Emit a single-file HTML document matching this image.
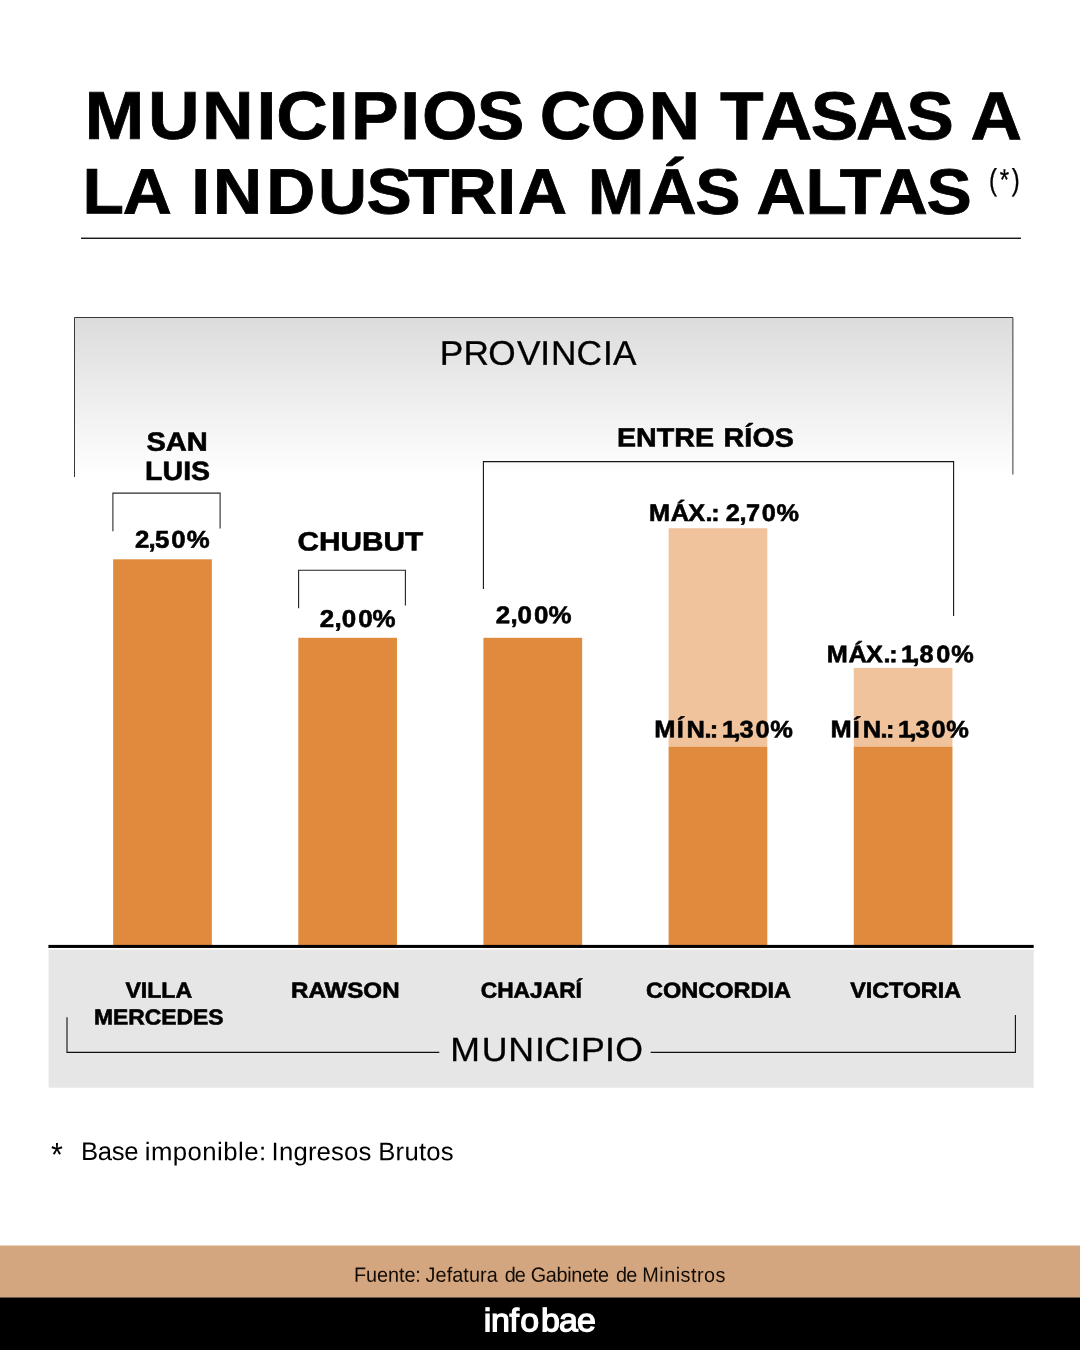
<!DOCTYPE html>
<html lang="es">
<head>
<meta charset="utf-8">
<title>Municipios con tasas a la industria más altas</title>
<style>
html,body{margin:0;padding:0;background:#fff;}
body{width:1080px;height:1350px;overflow:hidden;font-family:"Liberation Sans",sans-serif;}
svg{display:block;}
text{white-space:pre;}
</style>
</head>
<body>
<svg width="1080" height="1350" viewBox="0 0 1080 1350" text-rendering="geometricPrecision" role="img" aria-label="Municipios con tasas a la industria más altas">
<defs><linearGradient id="g" x1="0" y1="0" x2="0" y2="1"><stop offset="0" stop-color="#dcdcdc"/><stop offset="1" stop-color="#ffffff"/></linearGradient></defs>
<!-- Province header box (grey gradient, open at the bottom) -->
<g id="province-box">
  <rect x="74.50" y="317.50" width="938.40" height="158.50" fill="url(#g)"/>
  <polyline points="74.50,477.00 74.50,317.50 1012.90,317.50 1012.90,474.50" fill="none" stroke="#383838" stroke-width="1"/>
</g>
<!-- Headline -->
<g id="title">
  <text transform="translate(555.20 139.05) rotate(0.03) translate(-555.20 0) scale(1.0538 1)" x="80.46 140.42 191.79 243.46 262.18 311.88 333.04 379.78 400.37 452.35 494.83 512.19 560.39 615.34 659.69 683.30 721.87 769.42 812.38 859.98 902.46 921.04" font-family='"Liberation Sans", sans-serif' font-weight="bold" font-size="67.71" fill="#000" stroke="#000" stroke-width="0.80" stroke-linejoin="miter" stroke-miterlimit="2.5">MUNICIPIOS CON TASAS A</text>
  <text transform="translate(527.70 213.60) rotate(0.03) translate(-527.70 0) scale(1.0556 1)" x="78.25 116.18 160.86 181.09 201.86 252.35 301.23 347.13 386.55 424.16 470.96 490.61 535.29 556.75 613.35 658.56 698.90 716.66 763.20 795.55 832.37 877.63" font-family='"Liberation Sans", sans-serif' font-weight="bold" font-size="64.29" fill="#000" stroke="#000" stroke-width="0.80" stroke-linejoin="miter" stroke-miterlimit="2.5">LA INDUSTRIA MÁS ALTAS</text>
  <text transform="translate(1004.45 189.67) rotate(0.03) translate(-1004.45 0) scale(0.7917 1)" x="1249.26 1262.71 1278.02" font-family='"Liberation Sans", sans-serif' font-weight="normal" font-size="30.24" fill="#000" stroke="#000" stroke-width="0.30" stroke-linejoin="miter" stroke-miterlimit="2.5">(*)</text>
  <rect x="81.00" y="237.60" width="940.00" height="1.30" fill="#000"/>
</g>
<!-- Brackets tying bars to their province -->
<g id="province-brackets">
  <polyline points="112.90,531.20 112.90,493.10 220.10,493.10 220.10,528.40" fill="none" stroke="#2a2a2a" stroke-width="1.1"/>
  <polyline points="298.60,608.20 298.60,570.30 405.40,570.30 405.40,605.60" fill="none" stroke="#222" stroke-width="1.1"/>
  <polyline points="483.40,589.00 483.40,461.60 953.60,461.60 953.60,616.00" fill="none" stroke="#151515" stroke-width="1.1"/>
</g>
<!-- Bars: Villa Mercedes, Rawson, Chajari, Concordia (min/max), Victoria (min/max) -->
<g id="bars">
  <rect x="113.15" y="559.30" width="98.70" height="385.70" fill="#df8a3c"/>
  <rect x="298.30" y="637.80" width="98.70" height="307.20" fill="#df8a3c"/>
  <rect x="483.45" y="637.80" width="98.70" height="307.20" fill="#df8a3c"/>
  <rect x="668.60" y="528.20" width="98.70" height="218.40" fill="#f0c39d"/>
  <rect x="668.60" y="746.60" width="98.70" height="198.40" fill="#df8a3c"/>
  <rect x="853.75" y="667.90" width="98.70" height="78.70" fill="#f0c39d"/>
  <rect x="853.75" y="746.60" width="98.70" height="198.40" fill="#df8a3c"/>
</g>
<!-- Baseline and municipality panel -->
<g id="axis">
  <rect x="48.60" y="949.60" width="985.10" height="138.10" fill="#e6e6e6"/>
  <rect x="48.40" y="944.90" width="985.30" height="3.05" fill="#000"/>
</g>
<!-- Province labels -->
<g id="province-labels">
  <text transform="translate(539.95 364.75) rotate(0.03) translate(-539.95 0) scale(1.0350 1)" x="424.88 447.72 471.85 499.54 521.93 532.47 556.92 582.70 592.20" font-family='"Liberation Sans", sans-serif' font-weight="normal" font-size="34.04" fill="#000" stroke="#000" stroke-width="0.30" stroke-linejoin="miter" stroke-miterlimit="2.5">PROVINCIA</text>
  <text transform="translate(176.60 450.70) rotate(0.03) translate(-30.14 0) scale(1.0975 1)" font-family='"Liberation Sans", sans-serif' font-weight="bold" font-size="26.47" fill="#000" stroke="#000" stroke-width="0.60" stroke-linejoin="miter" stroke-miterlimit="2.5">SAN</text>
  <text transform="translate(178.00 479.90) rotate(0.03) translate(-32.91 0) scale(1.0726 1)" font-family='"Liberation Sans", sans-serif' font-weight="bold" font-size="26.62" fill="#000" stroke="#000" stroke-width="0.60" stroke-linejoin="miter" stroke-miterlimit="2.5">LUIS</text>
  <text transform="translate(360.75 550.60) rotate(0.03) translate(-63.20 0) scale(1.1174 1)" font-family='"Liberation Sans", sans-serif' font-weight="bold" font-size="26.62" fill="#000" stroke="#000" stroke-width="0.60" stroke-linejoin="miter" stroke-miterlimit="2.5">CHUBUT</text>
  <text transform="translate(705.80 446.60) rotate(0.03) translate(-705.80 0) scale(1.0800 1)" font-family='"Liberation Sans", sans-serif' font-weight="bold" font-size="26.47" fill="#000" stroke="#000" stroke-width="0.60" stroke-linejoin="miter" stroke-miterlimit="2.5"><tspan x="571.20" style="letter-spacing:0.093px">ENTRE</tspan> <tspan x="669.81" style="letter-spacing:0.192px">RÍOS</tspan></text>
</g>
<!-- Rate labels -->
<g id="value-labels">
  <text transform="translate(171.85 547.86) rotate(0.03) translate(-171.85 0) scale(1.0600 1)" x="127.44 140.02 146.29 161.51 176.15" font-family='"Liberation Sans", sans-serif' font-weight="bold" font-size="24.31" fill="#000" stroke="#000" stroke-width="0.60" stroke-linejoin="miter" stroke-miterlimit="2.5">2,50%</text>
  <text transform="translate(357.20 627.06) rotate(0.03) translate(-357.20 0) scale(1.0600 1)" x="301.74 315.57 322.37 337.88 351.46" font-family='"Liberation Sans", sans-serif' font-weight="bold" font-size="24.45" fill="#000" stroke="#000" stroke-width="0.60" stroke-linejoin="miter" stroke-miterlimit="2.5">2,00%</text>
  <text transform="translate(533.10 623.16) rotate(0.03) translate(-533.10 0) scale(1.0600 1)" x="467.68 481.51 488.31 503.83 517.40" font-family='"Liberation Sans", sans-serif' font-weight="bold" font-size="24.45" fill="#000" stroke="#000" stroke-width="0.60" stroke-linejoin="miter" stroke-miterlimit="2.5">2,00%</text>
  <text transform="translate(723.70 521.00) rotate(0.03) translate(-723.70 0) scale(1.0600 1)" x="612.16 632.73 649.26 665.65 671.08 676.75 684.64 697.73 703.85 718.71 732.57" font-family='"Liberation Sans", sans-serif' font-weight="bold" font-size="23.85" fill="#000" stroke="#000" stroke-width="0.60" stroke-linejoin="miter" stroke-miterlimit="2.5">MÁX.: 2,70%</text>
  <text transform="translate(899.90 662.30) rotate(0.03) translate(-899.90 0) scale(1.0600 1)" x="779.90 800.47 816.99 833.39 838.82 844.48 850.04 860.79 867.36 883.29 897.34" font-family='"Liberation Sans", sans-serif' font-weight="bold" font-size="23.85" fill="#000" stroke="#000" stroke-width="0.60" stroke-linejoin="miter" stroke-miterlimit="2.5">MÁX.: 1,80%</text>
  <text transform="translate(723.70 737.40) rotate(0.03) translate(-723.70 0) scale(1.0600 1)" x="617.24 638.39 647.70 664.55 669.69 675.39 681.13 691.91 697.59 712.63 726.61" font-family='"Liberation Sans", sans-serif' font-weight="bold" font-size="24.00" fill="#000" stroke="#000" stroke-width="0.60" stroke-linejoin="miter" stroke-miterlimit="2.5">MÍN.: 1,30%</text>
  <text transform="translate(899.80 737.40) rotate(0.03) translate(-899.80 0) scale(1.0600 1)" x="783.38 804.53 813.83 830.68 835.82 841.52 847.26 858.04 863.73 878.76 892.75" font-family='"Liberation Sans", sans-serif' font-weight="bold" font-size="24.00" fill="#000" stroke="#000" stroke-width="0.60" stroke-linejoin="miter" stroke-miterlimit="2.5">MÍN.: 1,30%</text>
</g>
<!-- Municipality labels -->
<g id="municipality-labels">
  <text transform="translate(158.60 997.80) rotate(0.03) translate(-33.16 0) scale(1.0520 1)" font-family='"Liberation Sans", sans-serif' font-weight="bold" font-size="21.96" fill="#000" stroke="#000" stroke-width="0.60" stroke-linejoin="miter" stroke-miterlimit="2.5">VILLA</text>
  <text transform="translate(159.10 1024.50) rotate(0.03) translate(-65.13 0) scale(1.0553 1)" font-family='"Liberation Sans", sans-serif' font-weight="bold" font-size="21.67" fill="#000" stroke="#000" stroke-width="0.60" stroke-linejoin="miter" stroke-miterlimit="2.5">MERCEDES</text>
  <text transform="translate(345.30 997.80) rotate(0.03) translate(-54.30 0) scale(1.0988 1)" font-family='"Liberation Sans", sans-serif' font-weight="bold" font-size="21.96" fill="#000" stroke="#000" stroke-width="0.60" stroke-linejoin="miter" stroke-miterlimit="2.5">RAWSON</text>
  <text transform="translate(532.05 997.80) rotate(0.03) translate(-51.35 0) scale(1.0374 1)" font-family='"Liberation Sans", sans-serif' font-weight="bold" font-size="21.96" fill="#000" stroke="#000" stroke-width="0.60" stroke-linejoin="miter" stroke-miterlimit="2.5">CHAJARÍ</text>
  <text transform="translate(718.70 997.80) rotate(0.03) translate(-72.62 0) scale(1.0700 1)" font-family='"Liberation Sans", sans-serif' font-weight="bold" font-size="21.96" fill="#000" stroke="#000" stroke-width="0.60" stroke-linejoin="miter" stroke-miterlimit="2.5">CONCORDIA</text>
  <text transform="translate(905.35 997.80) rotate(0.03) translate(-55.21 0) scale(1.0606 1)" font-family='"Liberation Sans", sans-serif' font-weight="bold" font-size="21.96" fill="#000" stroke="#000" stroke-width="0.60" stroke-linejoin="miter" stroke-miterlimit="2.5">VICTORIA</text>
</g>
<!-- MUNICIPIO bracket -->
<g id="municipio-bracket">
  <polyline points="67.00,1017.30 67.00,1052.40 439.30,1052.40" fill="none" stroke="#111" stroke-width="1.1"/>
  <polyline points="650.70,1052.40 1015.40,1052.40 1015.40,1015.00" fill="none" stroke="#111" stroke-width="1.1"/>
  <text transform="translate(546.90 1060.95) rotate(0.03) translate(-546.90 0) scale(1.0613 1)" x="424.16 453.99 478.87 504.15 512.96 537.27 547.46 570.11 579.68" font-family='"Liberation Sans", sans-serif' font-weight="normal" font-size="33.60" fill="#000" stroke="#000" stroke-width="0.30" stroke-linejoin="miter" stroke-miterlimit="2.5">MUNICIPIO</text>
</g>
<!-- Footnote -->
<g id="footnote">
  <text transform="translate(57.00 1166.18) rotate(0.03) translate(-5.93 0) scale(0.9101 1)" font-family='"Liberation Sans", sans-serif' font-weight="normal" font-size="33.43" fill="#000">*</text>
  <text transform="translate(268.00 1160.20) rotate(0.03) translate(-268.00 0) scale(1.0100 1)" font-family='"Liberation Sans", sans-serif' font-weight="normal" font-size="25.45" fill="#000"><tspan x="80.28" style="letter-spacing:-0.376px">Base</tspan> <tspan x="143.33" style="letter-spacing:0.471px">imponible:</tspan> <tspan x="268.93" style="letter-spacing:0.182px">Ingresos</tspan> <tspan x="374.53" style="letter-spacing:0.222px">Brutos</tspan></text>
</g>
<!-- Source strip and brand bar -->
<g id="footer">
  <rect x="0.00" y="1245.50" width="1080.00" height="52.10" fill="#d4a67f"/>
  <rect x="0.00" y="1297.45" width="1080.00" height="52.55" fill="#000"/>
  <text transform="translate(540.25 1281.80) rotate(0.03) translate(-540.25 0) scale(0.9600 1)" font-family='"Liberation Sans", sans-serif' font-weight="normal" font-size="20.65" fill="#120c06"><tspan x="368.82" style="letter-spacing:-0.069px">Fuente:</tspan> <tspan x="443.34" style="letter-spacing:0.077px">Jefatura</tspan> <tspan x="525.68" style="letter-spacing:-1.067px">de</tspan> <tspan x="552.82" style="letter-spacing:-0.330px">Gabinete</tspan> <tspan x="641.73" style="letter-spacing:-0.754px">de</tspan> <tspan x="669.03" style="letter-spacing:0.510px">Ministros</tspan></text>
  <text transform="translate(540.00 1331.35) rotate(0.03) translate(-540.00 0) scale(1.0473 1)" x="461.90 468.80 486.60 496.72 516.46 533.75 551.00" font-family='"Liberation Sans", sans-serif' font-weight="normal" font-size="32.39" fill="#fff" stroke="#fff" stroke-width="1.30" stroke-linejoin="miter" stroke-miterlimit="2.5">infobae</text>
</g>
</svg>
</body>
</html>
